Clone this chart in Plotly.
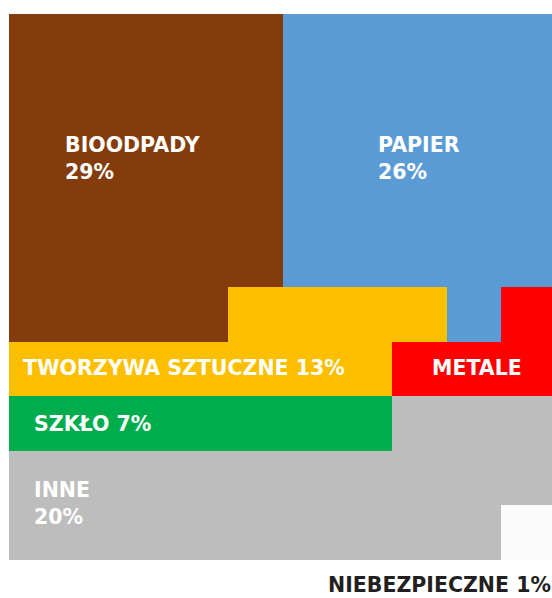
import plotly.graph_objects as go

# Categories and their shares (as printed on the chart)
categories = ["BIOODPADY", "PAPIER", "TWORZYWA SZTUCZNE", "METALE", "SZKŁO", "INNE", "NIEBEZPIECZNE"]
shares = [29, 26, 13, None, 7, 20, 1]
colors = ["#843C0C", "#5B9BD5", "#FBBF00", "#FF0000", "#00AD4D", "#BDBDBD", "#FBFBFB"]

# 10x10 waffle grid, row by row from the top: index into categories
grid = [
    [0, 0, 0, 0, 0, 1, 1, 1, 1, 1],
    [0, 0, 0, 0, 0, 1, 1, 1, 1, 1],
    [0, 0, 0, 0, 0, 1, 1, 1, 1, 1],
    [0, 0, 0, 0, 0, 1, 1, 1, 1, 1],
    [0, 0, 0, 0, 0, 1, 1, 1, 1, 1],
    [0, 0, 0, 0, 2, 2, 2, 2, 1, 3],
    [2, 2, 2, 2, 2, 2, 2, 3, 3, 3],
    [4, 4, 4, 4, 4, 4, 4, 5, 5, 5],
    [5, 5, 5, 5, 5, 5, 5, 5, 5, 5],
    [5, 5, 5, 5, 5, 5, 5, 5, 5, 6],
]

n = len(colors)
colorscale = []
for i, c in enumerate(colors):
    colorscale.append([i / n, c])
    colorscale.append([(i + 1) / n, c])

fig = go.Figure(go.Heatmap(
    z=[[v + 0.5 for v in row] for row in grid],
    x=list(range(10)),
    y=list(range(10)),
    colorscale=colorscale,
    zmin=0, zmax=n,
    showscale=False,
    hoverinfo="skip",
    xgap=0, ygap=0,
))


def label(i, two_lines=False):
    name = categories[i]
    if shares[i] is None:
        return name
    sep = "<br>" if two_lines else " "
    return f"{name}{sep}{shares[i]}%"


FAM = "DejaVu Sans"
font_white = dict(family=FAM, size=20.5, color="white", weight=700)

# label placements (data coords of the grid)
ann = [
    (0, True, 0.49, 2.14, "left"),
    (1, True, 6.22, 2.14, "left"),
    (2, False, -0.275, 5.99, "left"),
    (3, False, 8.05, 5.99, "center"),
    (4, False, -0.075, 7.0, "left"),
    (5, True, -0.075, 8.47, "left"),
]
for i, two, x, y, xa in ann:
    fig.add_annotation(x=x, y=y, text=label(i, two), showarrow=False,
                       xanchor=xa, yanchor="middle", align="left", font=font_white)

fig.add_annotation(x=1.0, xref="paper", y=-0.046, yref="paper", text=label(6),
                   showarrow=False, xanchor="right", yanchor="middle", borderpad=0,
                   font=dict(family=FAM, size=20.5, color="#231F20", weight=700))

fig.update_xaxes(range=[-0.5, 9.43], visible=False, fixedrange=True)
fig.update_yaxes(range=[9.5, -0.5], visible=False, fixedrange=True)
fig.update_layout(
    width=552, height=598,
    margin=dict(l=9, r=0, t=14, b=38),
    paper_bgcolor="white", plot_bgcolor="white",
    showlegend=False,
)
fig.write_html("out.html")
